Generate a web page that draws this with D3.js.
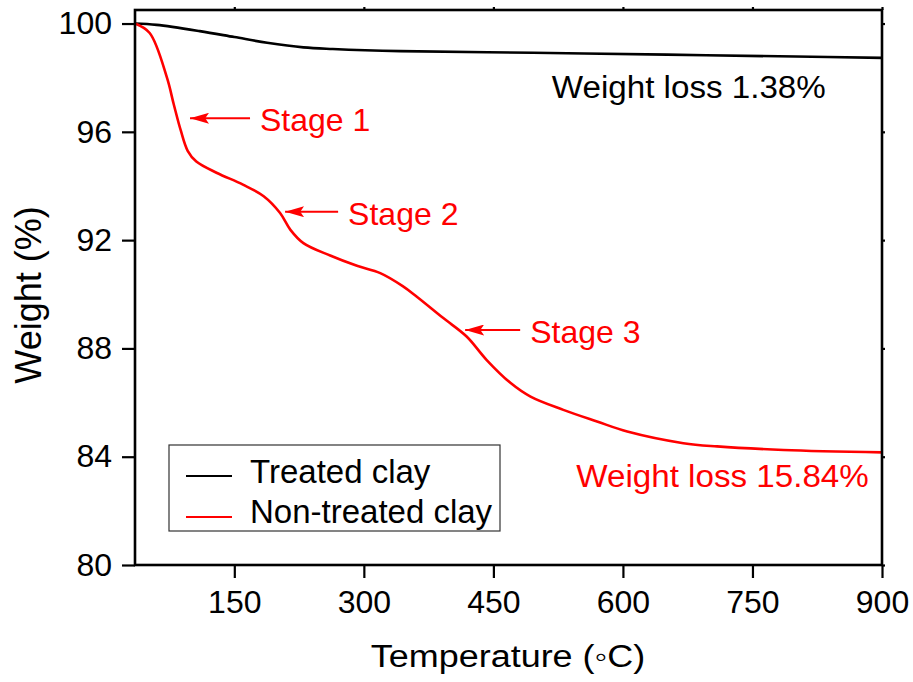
<!DOCTYPE html>
<html>
<head>
<meta charset="utf-8">
<script src="https://cdn.jsdelivr.net/npm/d3@7"></script>
<style>
  body { margin: 0; background: #fff; }
  svg text { font-family: "Liberation Sans", Arial, sans-serif; }
</style>
</head>
<body>
<svg id="tga"></svg>
<script>
// TGA data
var tempTreated = [35, 60, 110, 150, 188, 230, 264, 342, 496, 651, 800, 900];
var weightTreated = [100, 99.95, 99.72, 99.5, 99.29, 99.12, 99.06, 98.98, 98.92, 98.85, 98.78, 98.73];

var tempRaw = [35, 52, 72, 80, 88, 96, 106, 130, 160, 184, 203, 215, 230, 261, 292, 319, 345, 361, 392, 419, 442, 470, 493, 531, 570, 605, 670, 709, 786, 900];
var weightRaw = [100, 99.65, 98.0, 97.0, 96.05, 95.3, 94.9, 94.48, 94.05, 93.62, 93.0, 92.38, 91.89, 91.43, 91.05, 90.78, 90.3, 89.92, 89.12, 88.44, 87.58, 86.72, 86.22, 85.73, 85.30, 84.93, 84.5, 84.38, 84.25, 84.16];

var xTicks = [150, 300, 450, 600, 750, 900];
var yTicks = [80, 84, 88, 92, 96, 100];

var seriesNames = ["Treated clay", "Non-treated clay"];
var seriesColors = ["#000000", "#ff0000"];

// stage arrows: tip (temp, weight), tail temp
var stageLabels = ["Stage 1", "Stage 2", "Stage 3"];
var stageTipTemp = [98.7, 208.8, 417.3];
var stageTipWeight = [96.5, 93.05, 88.68];
var stageTailTemp = [168.2, 270.2, 481];

var lossLabels = ["Weight loss 1.38%", "Weight loss 15.84%"];
var lossTemp = [517.6, 546];
var lossWeight = [97.24, 82.89];

var wtot = 913, htot = 682;
var margin = { top: 10, right: 31, bottom: 117, left: 135 };
var width = wtot - margin.left - margin.right,
    height = htot - margin.top - margin.bottom;

var svg = d3.select("#tga")
    .attr("width", wtot)
    .attr("height", htot);

svg.append("defs").append("marker")
    .attr("id", "arrow")
    .attr("viewBox", "0 0 10 10")
    .attr("refX", 10)
    .attr("refY", 5)
    .attr("markerUnits", "userSpaceOnUse")
    .attr("markerWidth", 19)
    .attr("markerHeight", 11)
    .attr("orient", "auto")
    .attr("preserveAspectRatio", "none")
    .append("path")
    .attr("d", "M0,0 L10,5 L0,10 L2,5 Z")
    .attr("fill", "#ff0000");

var g = svg.append("g").attr("transform", `translate(${margin.left},${margin.top})`);

var x = d3.scaleLinear().domain([35, 900]).range([0, width]);
var y = d3.scaleLinear().domain([80, 100.5]).range([height, 0]);

// axes
var xAxis = d3.axisBottom(x).tickValues(xTicks).tickSize(13).tickPadding(12);
var yAxis = d3.axisLeft(y).tickValues(yTicks).tickSize(13).tickPadding(10);

function styleAxis(sel) {
    sel.select(".domain").remove();
    sel.selectAll(".tick line").attr("stroke", "#000").attr("stroke-width", 2.2);
    sel.selectAll(".tick text").attr("fill", "#000").style("font-size", "32px");
}

g.append("g")
    .attr("transform", `translate(0,${height})`)
    .call(xAxis)
    .call(styleAxis);

g.append("g")
    .call(yAxis)
    .call(styleAxis);

// mirrored small ticks on top/right
g.append("g")
    .call(d3.axisTop(x).tickValues(xTicks).tickSize(3).tickFormat(""))
    .call(styleAxis);
g.append("g")
    .attr("transform", `translate(${width},0)`)
    .call(d3.axisRight(y).tickValues(yTicks).tickSize(3).tickFormat(""))
    .call(styleAxis);

// curves
var line = d3.line()
    .x(d => x(d[0]))
    .y(d => y(d[1]))
    .curve(d3.curveCatmullRom.alpha(0.5));

var series = [
    d3.zip(tempTreated, weightTreated),
    d3.zip(tempRaw, weightRaw)
];

g.selectAll("path.curve")
    .data(series)
    .join("path")
    .attr("class", "curve")
    .attr("fill", "none")
    .attr("stroke", (d, i) => seriesColors[i])
    .attr("stroke-width", 2.6)
    .attr("stroke-linejoin", "round")
    .attr("d", line);

// frame
g.append("rect")
    .attr("x", 0)
    .attr("y", 0)
    .attr("width", width)
    .attr("height", height)
    .attr("fill", "none")
    .attr("stroke", "#000")
    .attr("stroke-width", 2.6);

// stage arrows + labels
stageLabels.forEach((lbl, i) => {
    var yy = y(stageTipWeight[i]);
    g.append("line")
        .attr("x1", x(stageTailTemp[i]))
        .attr("y1", yy)
        .attr("x2", x(stageTipTemp[i]))
        .attr("y2", yy)
        .attr("stroke", "#ff0000")
        .attr("stroke-width", 2)
        .attr("marker-end", "url(#arrow)");
    g.append("text")
        .attr("x", x(stageTailTemp[i]) + 10)
        .attr("y", yy + 13)
        .attr("fill", "#ff0000")
        .style("font-size", "32px")
        .text(lbl);
});

// weight loss labels (slightly wider in the original)
lossLabels.forEach((lbl, i) => {
    g.append("text")
        .attr("transform", `translate(${x(lossTemp[i])},${y(lossWeight[i])}) scale(1.07,1)`)
        .attr("fill", seriesColors[i])
        .style("font-size", "31px")
        .text(lbl);
});

// legend
var legend = svg.append("g").attr("transform", "translate(169,445)");
legend.append("rect")
    .attr("width", 331)
    .attr("height", 86)
    .attr("fill", "#fff")
    .attr("stroke", "#333")
    .attr("stroke-width", 1.2);

seriesNames.forEach((name, i) => {
    legend.append("line")
        .attr("x1", 17).attr("x2", 63)
        .attr("y1", 31 + i * 41).attr("y2", 31 + i * 41)
        .attr("stroke", seriesColors[i])
        .attr("stroke-width", 2.2);
    legend.append("text")
        .attr("x", 81)
        .attr("y", 38 + i * 40)
        .attr("fill", "#000")
        .style("font-size", "33px")
        .text(name);
});

// axis titles
svg.append("text")
    .attr("transform", "translate(508,667) scale(1.16,1)")
    .attr("text-anchor", "middle")
    .style("font-size", "31px")
    .text("Temperature (\u25E6C)");

svg.append("text")
    .attr("transform", "translate(41,295) rotate(-90)")
    .attr("text-anchor", "middle")
    .style("font-size", "36px")
    .text("Weight (%)");
</script>
</body>
</html>
